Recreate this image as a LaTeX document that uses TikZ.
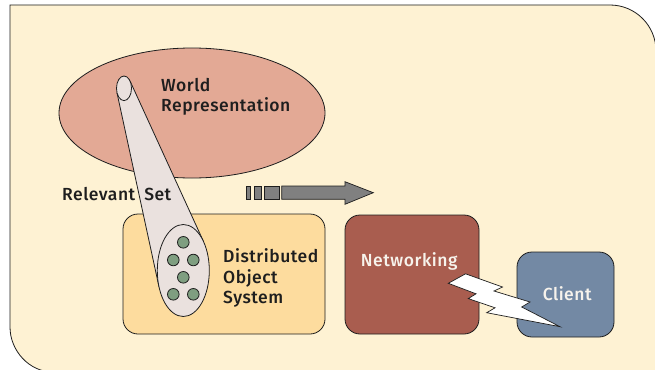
\documentclass[tikz,border=0pt]{standalone}
\usepackage{fontspec}
\setmainfont{Fira Sans}
\newfontfamily\labelfont{Fira Sans Medium}[LetterSpace=3]
\usetikzlibrary{shapes.geometric}
\definecolor{paper}{HTML}{FEF2D3}
\definecolor{worldfill}{HTML}{E3A995}
\definecolor{beamfill}{HTML}{EAE1DE}
\definecolor{dosfill}{HTML}{FDDC9E}
\definecolor{netfill}{HTML}{A95D4F}
\definecolor{clientfill}{HTML}{7389A4}
\definecolor{dotfill}{HTML}{7F9E80}
\definecolor{arrowfill}{HTML}{808080}
\definecolor{ink}{HTML}{1E1E1E}
\definecolor{lighttext}{HTML}{F7F3EC}
\tikzset{
  outline/.style={draw=ink, line width=0.8pt},
  label/.style={font=\labelfont\fontsize{17.5}{20.2}\selectfont, text=ink, inner sep=0pt, align=left},
  boxlabel/.style={font=\labelfont\fontsize{17.5}{20.2}\selectfont, text=lighttext, inner sep=0pt},
  module/.style={outline, rounded corners=15pt, inner sep=0pt},
  obj/.style={outline, circle, fill=dotfill, minimum size=11.6pt, inner sep=0pt},
}
\begin{document}
\begin{tikzpicture}[x=1pt, y=-1pt]
\useasboundingbox (0,0) rectangle (655,369);
\begin{scope}
\clip (0,0) rectangle (655,369);
% panel with two rounded corners
\fill[white] (0,0) rectangle (655,369);
\draw[outline, fill=paper] (10,5) -- (610,5)
  .. controls (635.4,5) and (656,25.6) .. (656,51)
  -- (656,372) -- (53,372)
  .. controls (29.3,372) and (10,350.7) .. (10,327) -- cycle;
\end{scope}

% world model
\node[outline, ellipse, fill=worldfill, minimum width=266pt, minimum height=130pt, inner sep=0pt] (world) at (192,113) {};
\node[label, anchor=west] (worldtext) at (161,96.5) {World\\Representation};

% distributed object system
\node[module, fill=dosfill, minimum width=202pt, minimum height=120pt] (dos) at (224,274) {};

% relevant-set beam
\fill[beamfill] (116.9,92.4) -- (159,286.9) -- (203.5,241.5) -- (130,80.9) -- cycle;
\draw[outline] (116.9,92.4) -- (159,286.9);
\draw[outline] (130,80.9) -- (203.5,241.5);
\node[outline, ellipse, fill=beamfill, minimum width=15pt, minimum height=24.6pt, inner sep=0pt] (focus) at (124,88.3) {};
\node[outline, ellipse, fill=beamfill, minimum width=52pt, minimum height=92pt, inner sep=0pt] (subset) at (183.3,270.5) {};
\node[obj] (o1) at (183.3,242.3) {};
\node[obj] (o2) at (173.3,260) {};
\node[obj] (o3) at (193.3,260) {};
\node[obj] (o4) at (183.3,277.3) {};
\node[obj] (o5) at (173.3,294.3) {};
\node[obj] (o6) at (193.3,294.3) {};

\node[label, anchor=west] (dostext) at (223,278) {Distributed\\Object\\System};
\node[label, anchor=base west] (relset) at (62,200.7) {Relevant\hspace{9pt}Set};

% data flow arrow
\draw[outline, fill=arrowfill, line width=0.7pt] (246.7,186) rectangle (250.7,199.3);
\draw[outline, fill=arrowfill, line width=0.7pt] (254,186) rectangle (261.7,199.3);
\draw[outline, fill=arrowfill, line width=0.7pt] (264,186) rectangle (279.3,199.3);
\draw[outline, fill=arrowfill, line width=0.7pt] (281.7,186) -- (345,186) -- (345,181.7) -- (373.3,192.7)
  -- (345,204.3) -- (345,199.3) -- (281.7,199.3) -- cycle;

% networking and client
\node[module, fill=netfill, minimum width=134pt, minimum height=119pt] (net) at (412,274.5) {};
\node[module, fill=clientfill, minimum width=97pt, minimum height=85pt] (client) at (565.5,294.5) {};

% wireless link
\draw[outline, fill=white, line width=0.7pt] (448.3,283.3) -- (465.5,273.8) -- (502.5,287) -- (494,291)
  -- (530,302) -- (521.7,307) -- (560,326.7) -- (486.7,312.7) -- (495,307.8)
  -- (468.3,298.6) -- (476,293.8) -- cycle;

\node[boxlabel, anchor=base] (nettext) at (409.2,266.7) {Networking};
\node[boxlabel, anchor=base] (clienttext) at (567.2,300) {Client};
\end{tikzpicture}
\end{document}
